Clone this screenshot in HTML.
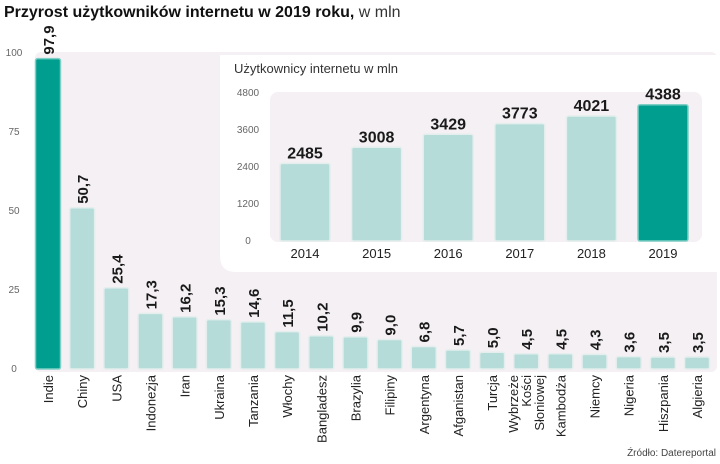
<!DOCTYPE html>
<html><head><meta charset="utf-8"><style>
body{margin:0;background:#fff;}
svg{display:block;font-family:"Liberation Sans",sans-serif;}
.v{font-family:"Liberation Sans Narrow","Liberation Sans",sans-serif;font-weight:bold;fill:#1a1a1a;}
.t{fill:#666;font-size:10px;}
</style></head><body>
<svg id="c" width="720" height="464" viewBox="0 0 720 464">
<rect x="0" y="0" width="720" height="464" fill="#fff"/>
<text x="4" y="17" font-size="16" font-weight="bold" fill="#111">Przyrost użytkowników internetu w 2019 roku,<tspan font-weight="normal" fill="#333"> w mln</tspan></text>
<rect x="35" y="52" width="682" height="320" rx="6" fill="#f4f0f3"/>
<g id="main"></g>
<path d="M220 55 H720 V272 H236 Q220 272 220 256 Z" fill="#fff"/>
<text x="234" y="73" font-size="13" fill="#333">Użytkownicy internetu w mln</text>
<rect x="270" y="92" width="432" height="150" rx="8" fill="#f4f0f3"/>
<g id="inset"></g>
<text x="716" y="456" font-size="10" fill="#444" text-anchor="end">Źródło: Datereportal</text>
</svg>
<script>
const countries=["Indie","Chiny","USA","Indonezja","Iran","Ukraina","Tanzania","Włochy","Bangladesz","Brazylia","Filipiny","Argentyna","Afganistan","Turcja","Wybrzeże|Kości|Słoniowej","Kambodża","Niemcy","Nigeria","Hiszpania","Algieria"];
const growth=[97.9,50.7,25.4,17.3,16.2,15.3,14.6,11.5,10.2,9.9,9.0,6.8,5.7,5.0,4.5,4.5,4.3,3.6,3.5,3.5];
const mainTicks=[0,25,50,75,100];
const years=["2014","2015","2016","2017","2018","2019"];
const users=[2485,3008,3429,3773,4021,4388];
const insetTicks=[0,1200,2400,3600,4800];

const NS="http://www.w3.org/2000/svg";
function mk(p,tag,a,txt){const e=document.createElementNS(NS,tag);for(const k in a)e.setAttribute(k,a[k]);if(txt!=null)e.textContent=txt;p.appendChild(e);return e;}
const fmt=v=>v.toFixed(1).replace('.',',');

const main=document.getElementById('main');
const y=v=>368-v*3.16;
const x=i=>48+i*34.16;
mainTicks.forEach(t=>{
  const e=mk(main,'text',{x:14,y:y(t)+4,'font-size':10,fill:'#666','text-anchor':'middle'},t);
  
  
});
countries.forEach((c,i)=>{
  const v=growth[i],top=y(v),cx=x(i),w=25;
  const r=mk(main,'rect',{x:cx-w/2,y:top,width:w,height:369-top,rx:2,fill:i===0?'#009e8e':'#b6dcda',stroke:i===0?'#7fcfc6':'#e4eeed','stroke-width':1.5});
  
  
  const vl=mk(main,'text',{x:cx+6,y:top-4,'font-size':15,class:'v',transform:`rotate(-90 ${cx+6} ${top-4})`},fmt(v));
  
  
  const parts=c.split('|');
  const lx=cx+5-(parts.length-1)*6.5;
  const lbl=mk(main,'text',{'font-size':13,fill:'#222','text-anchor':'end',transform:`translate(${lx},375) rotate(-90)`});
  parts.forEach((p,k)=>mk(lbl,'tspan',{x:0,dy:k===0?0:13},p));
  
  
});

const ins=document.getElementById('inset');
const yi=v=>240-v*148/4800;
const xi=i=>305+i*71.6;
insetTicks.forEach(t=>{
  const e=mk(ins,'text',{x:248,y:yi(t)+4,class:'t','text-anchor':'middle'},t);
  
  
});
years.forEach((yr,i)=>{
  const v=users[i],top=yi(v),cx=xi(i),w=50;
  const r=mk(ins,'rect',{x:cx-w/2,y:top,width:w,height:241-top,rx:2,fill:i===5?'#009e8e':'#b6dcda',stroke:i===5?'#7fcfc6':'#e4eeed','stroke-width':1.5});
  
  
  const vl=mk(ins,'text',{x:cx,y:top-5,'font-size':16,class:'v','text-anchor':'middle'},v);
  
  
  const xl=mk(ins,'text',{x:cx,y:258,'font-size':13,fill:'#222','text-anchor':'middle'},yr);
  
  
});
</script>
</body></html>
